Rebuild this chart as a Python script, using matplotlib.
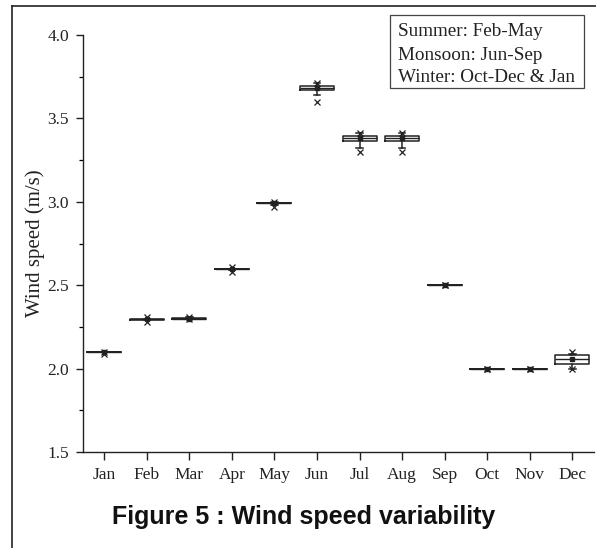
import matplotlib
matplotlib.use("Agg")
import matplotlib.pyplot as plt
from matplotlib.lines import Line2D
from matplotlib.patches import Rectangle
from matplotlib.ticker import MultipleLocator

months = ["Jan", "Feb", "Mar", "Apr", "May", "Jun", "Jul", "Aug", "Sep", "Oct", "Nov", "Dec"]
q1 = [2.10, 2.29, 2.30, 2.595, 2.99, 3.67, 3.365, 3.365, 2.50, 2.00, 2.00, 2.03]
med = [2.10, 2.30, 2.30, 2.60, 2.99, 3.68, 3.38, 3.38, 2.50, 2.00, 2.00, 2.06]
q3 = [2.10, 2.30, 2.305, 2.60, 2.995, 3.695, 3.395, 3.395, 2.50, 2.00, 2.00, 2.08]
whislo = [2.10, 2.29, 2.30, 2.59, 2.98, 3.64, 3.32, 3.32, 2.50, 2.00, 2.00, 2.00]
whishi = [2.10, 2.30, 2.31, 2.60, 3.00, 3.71, 3.41, 3.41, 2.50, 2.00, 2.00, 2.09]
means = [2.10, 2.295, 2.30, 2.60, 2.99, 3.68, 3.38, 3.38, 2.50, 2.00, 2.00, 2.055]
minv = [2.09, 2.28, 2.30, 2.58, 2.97, 3.60, 3.30, 3.30, 2.50, 2.00, 2.00, 2.00]
maxv = [2.10, 2.31, 2.31, 2.61, 3.00, 3.71, 3.41, 3.41, 2.50, 2.00, 2.00, 2.10]

legend_lines = ["Summer: Feb-May", "Monsoon: Jun-Sep", "Winter: Oct-Dec & Jan"]
title = "Figure 5 : Wind speed variability"
ylabel = "Wind speed (m/s)"

serif = ["Liberation Serif", "DejaVu Serif"]
W, H = 596, 548

fig = plt.figure(figsize=(5.96, 5.48), dpi=100)
ax = fig.add_axes([83 / W, 1 - 452 / H, (593.6 - 83) / W, (452 - 35) / H])

stats = []
for i in range(len(months)):
    stats.append(dict(q1=q1[i], med=med[i], q3=q3[i], whislo=whislo[i], whishi=whishi[i],
                      mean=means[i], fliers=[minv[i], maxv[i]], label=months[i]))

ax.bxp(stats, positions=range(1, len(months) + 1), widths=0.8, capwidths=0.15,
       showmeans=True, showfliers=True, patch_artist=False,
       boxprops=dict(color="#222222", linewidth=1.1),
       medianprops=dict(color="#222222", linewidth=1.0),
       whiskerprops=dict(color="#222222", linewidth=1.1),
       capprops=dict(color="#222222", linewidth=1.1),
       meanprops=dict(marker="s", markerfacecolor="#222222", markeredgecolor="#222222", markersize=3.2),
       flierprops=dict(marker="x", markeredgecolor="#222222", markersize=3.8, markeredgewidth=0.9))

ax.set_xlim(0.5, 12.5)
ax.set_ylim(1.5, 4.0)
ax.yaxis.set_major_locator(MultipleLocator(0.5))
ax.yaxis.set_minor_locator(MultipleLocator(0.25))
ax.yaxis.set_major_formatter(matplotlib.ticker.FormatStrFormatter("%.1f"))
ax.set_xticks(range(1, 13))
ax.set_xticklabels(months)
ax.spines["top"].set_visible(False)
ax.spines["right"].set_visible(False)
for s in ("left", "bottom"):
    ax.spines[s].set_color("#222222")
    ax.spines[s].set_linewidth(1.0)
ax.tick_params(axis="both", direction="out", colors="#222222", labelcolor="#222222")
ax.tick_params(axis="y", which="major", length=5, width=1.0, pad=5)
ax.tick_params(axis="y", which="minor", length=3, width=0.9)
ax.tick_params(axis="x", which="major", length=6, width=1.0, pad=5)
for lab in ax.get_xticklabels() + ax.get_yticklabels():
    lab.set_fontfamily(serif)
    lab.set_fontsize(12.5)
ax.set_ylabel(ylabel, fontfamily=serif, fontsize=15, color="#222222", labelpad=2)

# legend-like text box (figure pixel coordinates)
fig.add_artist(Rectangle((390 / W, 1 - 88 / H), (584 - 390) / W, (88 - 15) / H,
                         transform=fig.transFigure, facecolor="white", edgecolor="#444444", linewidth=0.9))
for k, line in enumerate(legend_lines):
    fig.text(398 / W, 1 - (30 + 23 * k) / H, line, ha="left", va="center_baseline",
             fontfamily=serif, fontsize=13.8, color="#222222")

# title below
fig.text(112 / W, 1 - 517 / H, title, ha="left", va="center",
         fontfamily=["Liberation Sans", "DejaVu Sans"], fontweight="bold", fontsize=18, color="#111111")

# outer frame fragments
fig.add_artist(Line2D([12 / W, 12 / W], [0, 1 - 6 / H], transform=fig.transFigure, color="#222222", linewidth=1.2))
fig.add_artist(Line2D([12 / W, 1], [1 - 6 / H, 1 - 6 / H], transform=fig.transFigure, color="#222222", linewidth=1.2))

fig.savefig("out.png", dpi=100)
